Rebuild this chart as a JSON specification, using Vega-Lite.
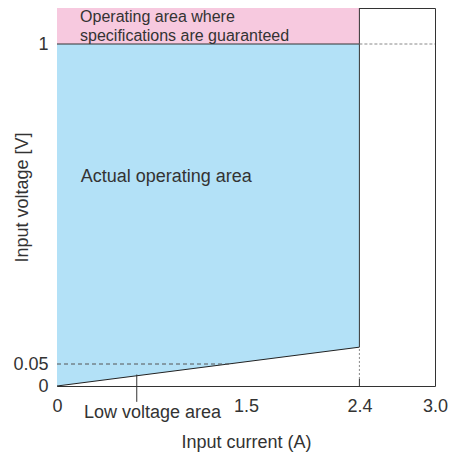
{
  "$schema": "https://vega.github.io/schema/vega-lite/v6.json",
  "width": 378,
  "height": 378,
  "autosize": {"type": "none"},
  "padding": {"left": 57, "top": 8, "right": 16, "bottom": 69},
  "background": "white",
  "config": {
    "view": {"stroke": "#333333", "strokeWidth": 1},
    "font": "Liberation Sans",
    "axis": {
      "grid": false,
      "domain": false,
      "ticks": false,
      "labelFlush": false,
      "labelFont": "Liberation Sans",
      "titleFont": "Liberation Sans",
      "labelFontSize": 18,
      "titleFontSize": 18,
      "labelColor": "#333333",
      "titleColor": "#333333",
      "titleFontWeight": "normal"
    },
    "text": {"font": "Liberation Sans", "color": "#333333"}
  },
  "datasets": {
    "pink": [{"c0": 0, "c1": 2.4, "v0": 1, "v1": 1.1}],
    "blue": [
      {"current": 0, "low": 0, "high": 1},
      {"current": 2.4, "low": 0.1, "high": 1}
    ],
    "edge": [
      {"current": 0, "voltage": 0},
      {"current": 2.4, "voltage": 0.1}
    ],
    "solid": [
      {"c0": 0, "c1": 2.4, "v0": 1, "v1": 1},
      {"c0": 2.4, "c1": 2.4, "v0": 0.1, "v1": 1.1},
      {"c0": 0.633, "c1": 0.633, "v0": -0.036, "v1": 0.026},
      {"c0": 2.4, "c1": 2.4, "v0": 0, "v1": 0.016}
    ],
    "dashedDark": [
      {"c0": 0, "c1": 1.39, "v0": 0.05, "v1": 0.05}
    ],
    "dashedLight": [
      {"c0": 2.4, "c1": 3.0, "v0": 1, "v1": 1}
    ],
    "dotted": [
      {"c0": 2.4, "c1": 2.4, "v0": 0.016, "v1": 0.1}
    ],
    "smallText": [
      {"current": 0.183, "voltage": 1.061, "label": "Operating area where"},
      {"current": 0.183, "voltage": 1.009, "label": "specifications are guaranteed"}
    ],
    "bigText": [
      {"current": 0.188, "voltage": 0.591, "label": "Actual operating area"},
      {"current": 0.214, "voltage": -0.0727, "label": "Low voltage area"}
    ]
  },
  "encoding": {
    "x": {
      "type": "quantitative",
      "scale": {"domain": [0, 3], "nice": false, "zero": false}
    },
    "y": {
      "type": "quantitative",
      "scale": {
        "domain": [0, 0.05, 1, 1.1],
        "range": [378, 356, 36, 0],
        "nice": false,
        "zero": false
      }
    }
  },
  "layer": [
    {
      "data": {"name": "pink"},
      "mark": {"type": "rect", "color": "#f7c9df"},
      "encoding": {
        "x": {"field": "c0", "type": "quantitative", "title": "Input current (A)",
          "axis": {
            "values": [0, 1.5, 2.4, 3],
            "labelExpr": "datum.value == 3 ? '3.0' : '' + datum.value",
            "labelBaseline": "alphabetic",
            "labelFlush": false,
            "labelPadding": 25,
            "titleBaseline": "alphabetic",
            "titleY": 61
          }},
        "x2": {"field": "c1"},
        "y": {"field": "v0", "type": "quantitative", "title": "Input voltage [V]",
          "axis": {
            "values": [0, 0.05, 1],
            "labelExpr": "'' + datum.value",
            "labelPadding": 9,
            "titleBaseline": "alphabetic",
            "titleX": -30
          }},
        "y2": {"field": "v1"}
      }
    },
    {
      "data": {"name": "blue"},
      "mark": {"type": "area", "color": "#b3e1f7", "opacity": 1},
      "encoding": {
        "x": {"field": "current", "type": "quantitative"},
        "y": {"field": "low", "type": "quantitative"},
        "y2": {"field": "high"}
      }
    },
    {
      "data": {"name": "edge"},
      "mark": {"type": "line", "color": "#222222", "strokeWidth": 1},
      "encoding": {
        "x": {"field": "current", "type": "quantitative"},
        "y": {"field": "voltage", "type": "quantitative"}
      }
    },
    {
      "data": {"name": "solid"},
      "mark": {"type": "rule", "color": "#333333", "strokeWidth": 1},
      "encoding": {
        "x": {"field": "c0", "type": "quantitative"},
        "x2": {"field": "c1"},
        "y": {"field": "v0", "type": "quantitative"},
        "y2": {"field": "v1"}
      }
    },
    {
      "data": {"name": "dashedDark"},
      "mark": {"type": "rule", "color": "#555555", "strokeWidth": 1, "strokeDash": [4, 3]},
      "encoding": {
        "x": {"field": "c0", "type": "quantitative"},
        "x2": {"field": "c1"},
        "y": {"field": "v0", "type": "quantitative"},
        "y2": {"field": "v1"}
      }
    },
    {
      "data": {"name": "dashedLight"},
      "mark": {"type": "rule", "color": "#888888", "strokeWidth": 1, "strokeDash": [3, 2]},
      "encoding": {
        "x": {"field": "c0", "type": "quantitative"},
        "x2": {"field": "c1"},
        "y": {"field": "v0", "type": "quantitative"},
        "y2": {"field": "v1"}
      }
    },
    {
      "data": {"name": "dotted"},
      "mark": {"type": "rule", "color": "#888888", "strokeWidth": 1, "strokeDash": [2, 2]},
      "encoding": {
        "x": {"field": "c0", "type": "quantitative"},
        "x2": {"field": "c1"},
        "y": {"field": "v0", "type": "quantitative"},
        "y2": {"field": "v1"}
      }
    },
    {
      "data": {"name": "smallText"},
      "mark": {"type": "text", "align": "left", "baseline": "alphabetic", "fontSize": 16, "color": "#333333"},
      "encoding": {
        "x": {"field": "current", "type": "quantitative"},
        "y": {"field": "voltage", "type": "quantitative"},
        "text": {"field": "label"}
      }
    },
    {
      "data": {"name": "bigText"},
      "mark": {"type": "text", "align": "left", "baseline": "alphabetic", "fontSize": 18, "color": "#333333"},
      "encoding": {
        "x": {"field": "current", "type": "quantitative"},
        "y": {"field": "voltage", "type": "quantitative"},
        "text": {"field": "label"}
      }
    }
  ]
}
